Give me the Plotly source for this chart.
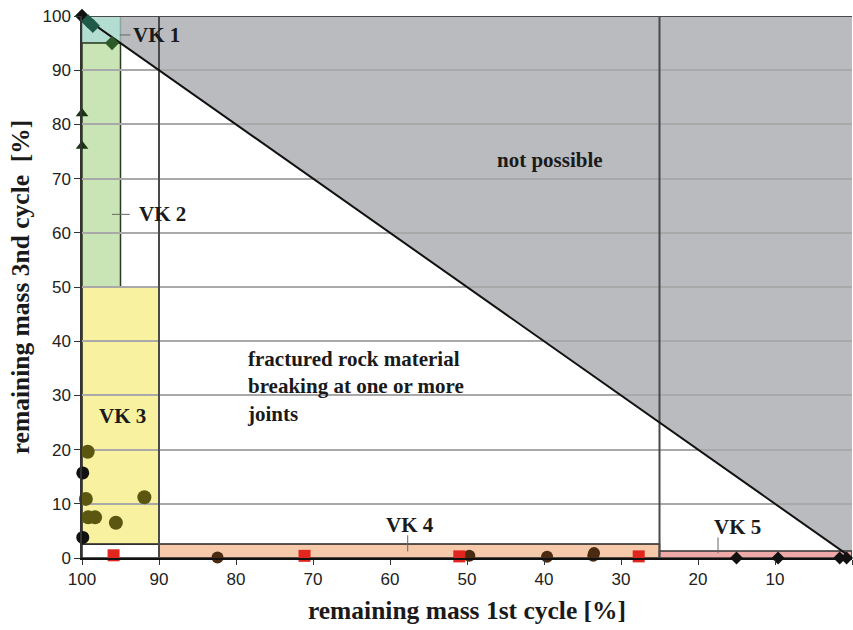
import plotly.graph_objects as go

# ---------------- data ----------------
# classification boxes (x = remaining mass 1st cycle, y = remaining mass 3rd cycle)
class_names = ["VK 1", "VK 2", "VK 3", "VK 4", "VK 5"]
class_x0 = [100, 100, 100, 90, 25]
class_x1 = [95, 95, 90, 25, 0]
class_y0 = [95, 50, 2.6, 0, 0]
class_y1 = [100, 95, 50, 2.6, 1.3]
class_fill = ["#b3ddd1", "#c9e4b5", "#f8f1a0", "#f5c9aa", "#efa9a9"]
class_line = ["#8aa8a0", "#2b3a20", "#222222", "#222222", "#333333"]

# measured samples
top_diamond_x = [100, 99.2, 98.6, 96.1]
top_diamond_y = [100, 99.0, 98.2, 95.0]
top_diamond_col = ["#111111", "#1f5a48", "#1f5a48", "#2d5a27"]

triangle_x = [100, 100]
triangle_y = [82, 76]

vk3_circle_x = [99.26, 99.5, 91.9, 99.2, 98.3, 95.6]
vk3_circle_y = [19.6, 10.9, 11.2, 7.5, 7.5, 6.5]
edge_circle_x = [99.9, 99.9]
edge_circle_y = [15.7, 3.8]

red_square_x = [95.9, 71.1, 51.0, 27.7]
red_square_y = [0.5, 0.4, 0.3, 0.3]

brown_circle_x = [82.4, 49.7, 39.6, 33.6, 33.5]
brown_circle_y = [0.1, 0.4, 0.25, 0.4, 0.9]

vk5_diamond_x = [15.0, 9.6, 1.6, 0.7]
vk5_diamond_y = [0, 0, 0, 0]

x_ticks = [100, 90, 80, 70, 60, 50, 40, 30, 20, 10, 0]
y_ticks = [0, 10, 20, 30, 40, 50, 60, 70, 80, 90, 100]

# ---------------- figure ----------------
fig = go.Figure()

shapes = []
# impossible region (above the diagonal)
shapes.append(dict(type="path", path="M 100 100 L 0 100 L 0 0 Z", xref="x", yref="y",
                   fillcolor="#b9bbbe", line=dict(width=0), layer="below"))
# white box under VK 3
shapes.append(dict(type="rect", x0=100, x1=90, y0=0, y1=2.6, xref="x", yref="y",
                   fillcolor="white", line=dict(color="#222", width=1.5), layer="below"))
for x0, x1, y0, y1, fc, lc in zip(class_x0, class_x1, class_y0, class_y1, class_fill, class_line):
    shapes.append(dict(type="rect", x0=x0, x1=x1, y0=y0, y1=y1, xref="x", yref="y",
                       fillcolor=fc, line=dict(color=lc, width=1.5), layer="below"))
# class boundary verticals
for xv in [90, 25]:
    shapes.append(dict(type="line", x0=xv, x1=xv, y0=0, y1=100, xref="x", yref="y",
                       line=dict(color="#4a4a4a", width=2), layer="between"))
# top border
shapes.append(dict(type="line", x0=100, x1=0, y0=100, y1=100, xref="x", yref="y",
                   line=dict(color="#4a4a4a", width=2), layer="between"))
# diagonal
shapes.append(dict(type="line", x0=100, x1=0, y0=100, y1=0, xref="x", yref="y",
                   line=dict(color="#111111", width=2), layer="between"))
# leader lines for labels
shapes.append(dict(type="line", x0=95.1, x1=93.7, y0=96.5, y1=96.5, xref="x", yref="y",
                   line=dict(color="#666", width=1)))
shapes.append(dict(type="line", x0=96.1, x1=93.8, y0=63.4, y1=63.4, xref="x", yref="y",
                   line=dict(color="#666", width=1)))
shapes.append(dict(type="line", x0=57.7, x1=57.7, y0=1.2, y1=4.2, xref="x", yref="y",
                   line=dict(color="#666", width=1)))
shapes.append(dict(type="line", x0=17.4, x1=17.4, y0=0.9, y1=3.8, xref="x", yref="y",
                   line=dict(color="#666", width=1)))

# markers
fig.add_trace(go.Scatter(x=triangle_x, y=triangle_y, mode="markers", cliponaxis=False,
                         marker=dict(symbol="triangle-up", size=11, color="#1c3412")))
fig.add_trace(go.Scatter(x=top_diamond_x, y=top_diamond_y, mode="markers", cliponaxis=False,
                         marker=dict(symbol="diamond", size=11, color=top_diamond_col)))
fig.add_trace(go.Scatter(x=vk3_circle_x, y=vk3_circle_y, mode="markers", cliponaxis=False,
                         marker=dict(symbol="circle", size=14, color="#5b5710")))
fig.add_trace(go.Scatter(x=edge_circle_x, y=edge_circle_y, mode="markers", cliponaxis=False,
                         marker=dict(symbol="circle", size=13, color="#111111")))
fig.add_trace(go.Scatter(x=brown_circle_x, y=brown_circle_y, mode="markers", cliponaxis=False,
                         marker=dict(symbol="circle", size=12, color="#4a2a10")))
fig.add_trace(go.Scatter(x=red_square_x, y=red_square_y, mode="markers", cliponaxis=False,
                         marker=dict(symbol="square", size=12, color="#e0261e")))
fig.add_trace(go.Scatter(x=vk5_diamond_x, y=vk5_diamond_y, mode="markers", cliponaxis=False,
                         marker=dict(symbol="diamond", size=10, color="#111111")))

serif = "Liberation Serif, Times New Roman, serif"
lab_font = dict(family=serif, size=21, color="#1a1a1a")

annotations = [
    dict(x=93.6, y=96.5, text="<b>VK 1</b>", xanchor="left", yanchor="middle"),
    dict(x=92.8, y=63.5, text="<b>VK 2</b>", xanchor="left", yanchor="middle"),
    dict(x=94.8, y=26.2, text="<b>VK 3</b>", xanchor="center", yanchor="middle"),
    dict(x=57.4, y=6.1, text="<b>VK 4</b>", xanchor="center", yanchor="middle"),
    dict(x=14.9, y=5.7, text="<b>VK 5</b>", xanchor="center", yanchor="middle"),
    dict(x=39.2, y=73.4, text="<b>not possible</b>", xanchor="center", yanchor="middle"),
    dict(x=78.8, y=31.7, text="<b>fractured rock material<br>breaking at one or more<br>joints</b>",
         xanchor="left", yanchor="middle", align="left"),
]
for a in annotations:
    a.update(xref="x", yref="y", showarrow=False, font=lab_font)

fig.update_layout(
    width=853, height=630,
    margin=dict(l=82, r=1, t=16, b=72),
    paper_bgcolor="white", plot_bgcolor="white",
    showlegend=False,
    shapes=shapes,
    annotations=annotations,
    xaxis=dict(range=[100, 0], tickvals=x_ticks, ticks="outside", ticklen=5, tickcolor="#333",
               showgrid=False, zeroline=False, showline=True, linecolor="#111", linewidth=2,
               tickfont=dict(family="Liberation Sans, Arial, sans-serif", size=17, color="#222"),
               title=dict(text="<b>remaining mass 1st cycle [%]</b>",
                          font=dict(family=serif, size=25.5, color="#1a1a1a"), standoff=13)),
    yaxis=dict(range=[0, 100], tickvals=y_ticks, ticks="outside", ticklen=6, tickcolor="#333",
               showgrid=True, gridcolor="#a9a9a9", gridwidth=1.5, zeroline=False,
               showline=True, linecolor="#333", linewidth=1.5,
               tickfont=dict(family="Liberation Sans, Arial, sans-serif", size=17, color="#222"),
               title=dict(text="<b>remaining mass 3nd cycle \u00a0[%]</b>",
                          font=dict(family=serif, size=25.5, color="#1a1a1a"), standoff=6)),
)

fig.write_html("out.html")
